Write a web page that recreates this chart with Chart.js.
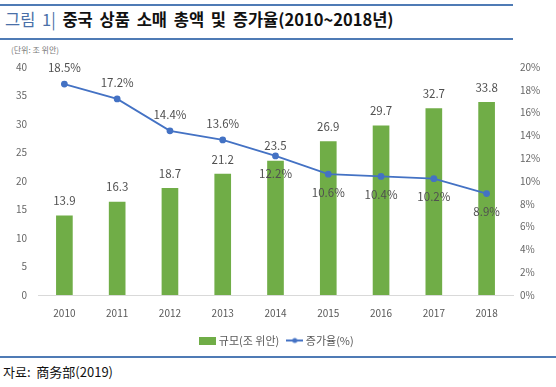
<!DOCTYPE html>
<html>
<head>
<meta charset="utf-8">
<script src="https://cdn.jsdelivr.net/npm/chart.js@4/dist/chart.umd.min.js"></script>
<style>
  body { margin: 0; width: 556px; height: 387px; background: #fff; position: relative; overflow: hidden;
         font-family: 'Noto Sans CJK KR', 'Noto Sans', sans-serif; }
  .rule { position: absolute; left: 0; height: 2px; background: #4f7bb5; }
  #title { position: absolute; left: 5px; top: 7px; font-size: 16.5px; font-weight: bold; color: #111;
           white-space: nowrap; word-spacing: 3px; }
  #title .num { color: #4a70a8; font-weight: normal; }
  #unit { position: absolute; left: 11px; top: 44px; font-size: 8px; color: #777; }
  #source { position: absolute; left: 3px; top: 362px; font-size: 13px; color: #111; white-space: pre; }
  #wrap { position: absolute; left: 0; top: 50px; width: 556px; height: 306px; }
</style>
</head>
<body>
<div class="rule" style="top:4px;width:513px"></div>
<div id="title"><span class="num">그림 1|</span> 중국 상품 소매 총액 및 증가율(2010~2018년)</div>
<div class="rule" style="top:38px;width:513px"></div>
<div id="unit">(단위: 조 위안)</div>
<div id="wrap"><canvas id="chart"></canvas></div>
<div class="rule" style="top:356px;width:556px"></div>
<div id="source">자료:  商务部(2019)</div>
<script>
const years = ['2010', '2011', '2012', '2013', '2014', '2015', '2016', '2017', '2018'];
const retailTotal = [13.9, 16.3, 18.7, 21.2, 23.5, 26.9, 29.7, 32.7, 33.8];
const growthRate = [18.5, 17.2, 14.4, 13.6, 12.2, 10.6, 10.4, 10.2, 8.9];

const GREEN = '#70ad47';
const BLUE = '#4472c4';
const FONT = "'Noto Sans CJK KR', 'Noto Sans', sans-serif";

// legend swatches
function swatch(kind) {
  const c = document.createElement('canvas');
  c.width = 17; c.height = 8;
  const g = c.getContext('2d');
  if (kind === 'bar') {
    g.fillStyle = GREEN;
    g.fillRect(0, 0, 17, 8);
  } else {
    g.strokeStyle = BLUE;
    g.lineWidth = 2;
    g.beginPath(); g.moveTo(0, 4); g.lineTo(17, 4); g.stroke();
    g.fillStyle = BLUE;
    g.beginPath(); g.arc(8.5, 4, 2.5, 0, Math.PI * 2); g.fill();
  }
  return c;
}
const swatches = [swatch('bar'), swatch('line')];

const valueLabels = {
  id: 'valueLabels',
  afterDatasetsDraw(chart) {
    const ctx = chart.ctx;
    ctx.save();
    ctx.font = '11.5px ' + FONT;
    ctx.fillStyle = '#505050';
    ctx.textAlign = 'center';
    ctx.textBaseline = 'middle';
    chart.getDatasetMeta(0).data.forEach((bar, i) => {
      ctx.fillText(retailTotal[i].toFixed(1), bar.x, bar.y - 15);
    });
    chart.getDatasetMeta(1).data.forEach((pt, i) => {
      const dy = i < 4 ? -16 : 18;
      ctx.fillText(growthRate[i].toFixed(1) + '%', pt.x, pt.y + dy);
    });
    ctx.restore();
  }
};

new Chart(document.getElementById('chart'), {
  data: {
    labels: years,
    datasets: [
      {
        type: 'bar',
        label: '규모(조 위안)',
        data: retailTotal,
        backgroundColor: GREEN,
        yAxisID: 'y',
        barThickness: 16,
        order: 1
      },
      {
        type: 'line',
        label: '증가율(%)',
        data: growthRate,
        borderColor: BLUE,
        backgroundColor: BLUE,
        borderWidth: 1.8,
        pointRadius: 2.5,
        pointHoverRadius: 2.5,
        tension: 0,
        yAxisID: 'y1',
        order: 0
      }
    ]
  },
  options: {
    responsive: true,
    maintainAspectRatio: false,
    animation: false,
    layout: { padding: { top: 5, left: 0, right: 0, bottom: 0 } },
    plugins: {
      tooltip: { enabled: false },
      legend: {
        position: 'bottom',
        labels: {
          usePointStyle: true,
          color: '#595959',
          font: { family: FONT, size: 11 },
          padding: 10,
          sort: (a, b) => a.datasetIndex - b.datasetIndex,
          generateLabels(chart) {
            return chart.data.datasets.map((ds, i) => ({
              text: ds.label,
              pointStyle: swatches[i],
              datasetIndex: i,
              fontColor: '#595959',
              lineWidth: 0,
              hidden: false
            }));
          }
        }
      }
    },
    scales: {
      x: {
        grid: { display: false, drawTicks: false },
        border: { color: '#d9d9d9' },
        ticks: { color: '#595959', font: { family: FONT, size: 10 }, padding: 12 },
        afterFit(scale) { scale.height = 30; }
      },
      y: {
        position: 'left',
        min: 0, max: 40,
        ticks: { stepSize: 5, color: '#666', font: { family: FONT, size: 10 }, padding: 11 },
        grid: { display: false, drawTicks: false },
        border: { display: false },
        afterFit(scale) { scale.width = 38; }
      },
      y1: {
        position: 'right',
        min: 0, max: 20,
        ticks: { stepSize: 2, color: '#666', font: { family: FONT, size: 10 }, padding: 7,
                 callback: v => v + '%' },
        grid: { display: false, drawTicks: false },
        border: { display: false },
        afterFit(scale) { scale.width = 43; }
      }
    }
  },
  plugins: [valueLabels]
});
</script>
</body>
</html>
